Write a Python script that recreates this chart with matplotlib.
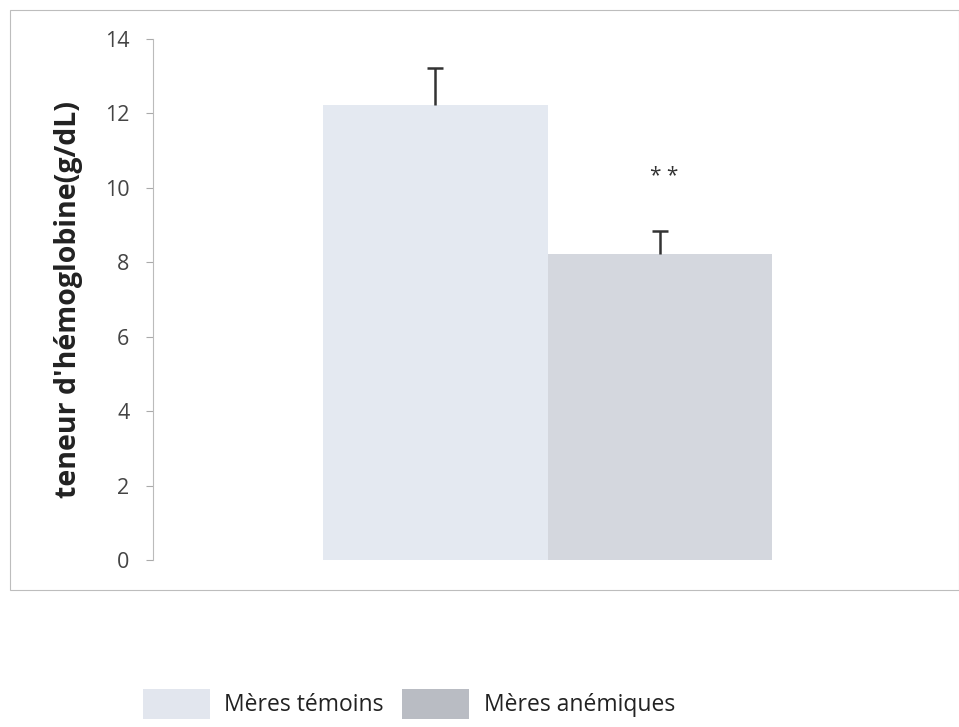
import matplotlib.pyplot as plt
from matplotlib.patches import Patch, Rectangle

categories = ["Mères témoins", "Mères anémiques"]
values = [12.23, 8.22]
errors = [0.99, 0.62]
signif = "* *"
signif_y = 10.3
yticks = [0, 2, 4, 6, 8, 10, 12, 14]
ylabel = "teneur d'hémoglobine(g/dL)"

bar_colors = ["#e4e9f1", "#d4d7de"]
legend_colors = ["#e2e6ee", "#b9bcc3"]

plt.rcParams['font.family'] = ['Open Sans', 'DejaVu Sans']

fig = plt.figure(figsize=(9.59, 7.27), dpi=100)
# outer chart frame
fig.patches.append(Rectangle((10/959, 1-590/727), 1-10/959, (590-10)/727,
                             transform=fig.transFigure, fill=False,
                             edgecolor="#bdbdbd", linewidth=0.8))

ax = fig.add_axes([153/959, 1-560/727, (942-153)/959, (560-39)/727])
x = [0, 1]
ax.bar(x, values, width=1.0, color=bar_colors, edgecolor="none")
tops = [v + e for v, e in zip(values, errors)]
ax.errorbar(x, values, yerr=[[0, 0], errors], fmt="none", ecolor="#333333",
            elinewidth=1.8, capsize=0)
ax.plot(x, tops, linestyle="none", marker="_", markersize=12,
        markeredgewidth=1.8, color="#333333")
ax.text(1.02, signif_y, signif, ha="center", va="center",
        fontsize=15, color="#333333")

ax.set_xlim(0.5 - 1.76, 0.5 + 1.76)
ax.set_ylim(0, 14)
ax.set_yticks(yticks)
ax.set_yticklabels([str(t) for t in yticks], fontsize=15.5, color="#444444")
ax.tick_params(axis="y", direction="out", length=5, color="#aaaaaa", pad=12)
ax.set_xticks([])
for s in ["top", "right", "bottom"]:
    ax.spines[s].set_visible(False)
ax.spines["left"].set_color("#bbbbbb")
ax.spines["left"].set_linewidth(0.8)
ax.set_ylabel(ylabel, fontsize=20.5, fontweight="bold", color="#222222", labelpad=16)

handles = [Patch(facecolor=c, edgecolor="none") for c in legend_colors]
fig.legend(handles, categories, loc="center", bbox_to_anchor=(409/959, 1-704/727),
           ncol=2, frameon=False, fontsize=16.5, handlelength=2.9, handleheight=1.7,
           columnspacing=0.8, handletextpad=0.65, labelcolor="#222222")

fig.savefig("out.png", dpi=100)
